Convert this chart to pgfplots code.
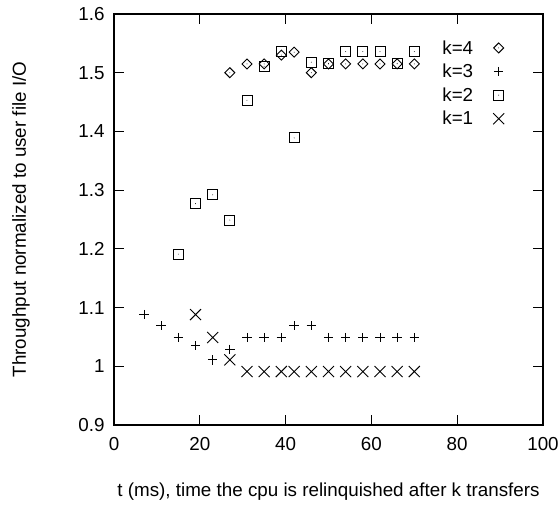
\documentclass[border=0pt]{standalone}
\usepackage{pgfplots}
\pgfplotsset{compat=1.18}
\usepackage{fontspec}
\setmainfont{Liberation Sans}
\pgfdeclareplotmark{dsquare}{%
  \pgfpathrectangle{\pgfpoint{-\pgfplotmarksize}{-\pgfplotmarksize}}{\pgfpoint{2\pgfplotmarksize}{2\pgfplotmarksize}}%
  \pgfusepathqstroke
  \pgfpathcircle{\pgfpointorigin}{0.45bp}\pgfusepathqfill}
\pgfdeclareplotmark{ddiamond}{%
  \pgfpathmoveto{\pgfqpoint{0pt}{\pgfplotmarksize}}%
  \pgfpathlineto{\pgfqpoint{\pgfplotmarksize}{0pt}}%
  \pgfpathlineto{\pgfqpoint{0pt}{-\pgfplotmarksize}}%
  \pgfpathlineto{\pgfqpoint{-\pgfplotmarksize}{0pt}}%
  \pgfpathclose\pgfusepathqstroke
  \pgfpathcircle{\pgfpointorigin}{0.45bp}\pgfusepathqfill}
\begin{document}
\begin{tikzpicture}[font=\fontsize{18.8bp}{22bp}\selectfont]
\useasboundingbox (-114bp,-81bp) rectangle (444bp,425bp);
\begin{axis}[
  at={(0,0)}, anchor=south west,
  scale only axis, width=429bp, height=411bp,
  xmin=0, xmax=100, ymin=0.9, ymax=1.6,
  xtick={0,20,40,60,80,100},
  ytick={0.9,1,1.1,1.2,1.3,1.4,1.5,1.6},
  yticklabels={0.9,1,1.1,1.2,1.3,1.4,1.5,1.6},
  minor tick num=0,
  tick pos=both, tick align=inside,
  major tick length=10bp,
  axis line style={line width=1.3bp},
  every tick/.style={line width=1.1bp, black},
  /pgf/number format/assume math mode=true,
  xticklabel style={yshift=-9bp},
  yticklabel style={xshift=-6bp},
  xlabel={t (ms), time the cpu is relinquished after k transfers},
  ylabel={Throughput normalized to user file I/O},
  xlabel style={at={(axis description cs:0.5,-0.162)}, anchor=center},
  ylabel style={at={(axis description cs:-0.217,0.5)}, anchor=center},
  legend plot pos=right,
  legend cell align=right,
  legend style={at={(axis description cs:0.917,0.946)}, anchor=north east, draw=none, fill=none,
    row sep=4.5bp, column sep=18bp, font=\fontsize{18.8bp}{22bp}\selectfont},
  every axis plot/.append style={only marks, black, line width=0.9bp},
]
\addplot[mark=ddiamond, mark size=5bp] table {
27 1.500
31 1.515
35 1.515
39 1.530
42 1.535
46 1.500
50 1.515
54 1.515
58 1.515
62 1.515
66 1.515
70 1.515
};
\addlegendentry{k=4}
\addplot[mark=+, mark size=4.7bp] table {
7 1.088
11 1.069
15 1.049
19 1.035
23 1.011
27 1.029
31 1.049
35 1.049
39 1.049
42 1.069
46 1.069
50 1.049
54 1.049
58 1.049
62 1.049
66 1.049
70 1.049
};
\addlegendentry{k=3}
\addplot[mark=dsquare, mark size=5bp] table {
15 1.191
19 1.277
23 1.292
27 1.249
31 1.453
35 1.511
39 1.537
42 1.389
46 1.518
50 1.516
54 1.536
58 1.536
62 1.536
66 1.516
70 1.536
};
\addlegendentry{k=2}
\addplot[mark=x, mark size=7.8bp] table {
19 1.088
23 1.049
27 1.011
31 0.991
35 0.991
39 0.991
42 0.991
46 0.991
50 0.991
54 0.991
58 0.991
62 0.991
66 0.991
70 0.991
};
\addlegendentry{k=1}
\end{axis}
\end{tikzpicture}
\end{document}
